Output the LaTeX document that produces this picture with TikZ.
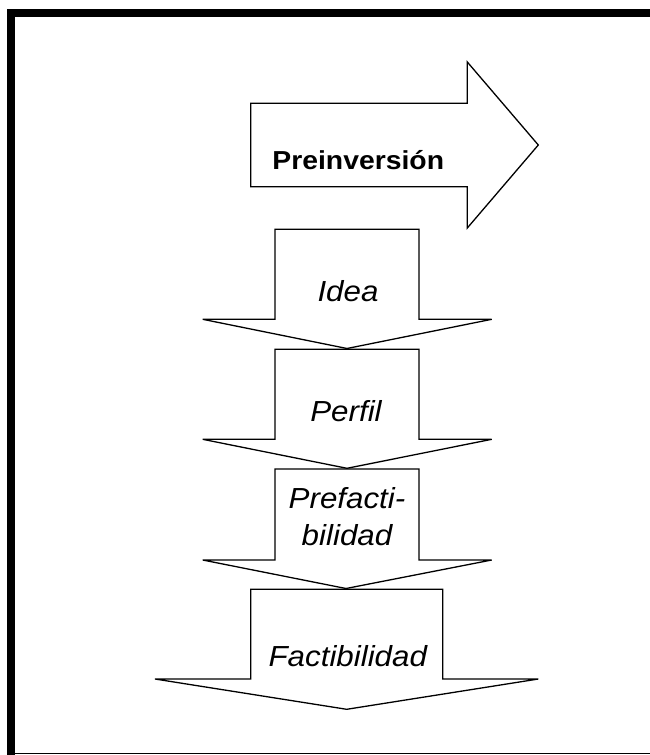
\documentclass[tikz,border=0pt]{standalone}
\usepackage{fontspec}
\setmainfont{Liberation Sans}
\begin{document}
\begin{tikzpicture}[x=1pt,y=-1pt,
  stage/.style={draw=black,fill=white,line width=1.3pt,line join=miter},
  stagelabel/.style={anchor=base,inner sep=0pt,font=\itshape\fontsize{29}{36.7}\selectfont},
  phaselabel/.style={anchor=base west,inner sep=0pt,font=\bfseries\fontsize{26}{30}\selectfont}]
\useasboundingbox (0,0) rectangle (650,755);
% page frame (thick top and left, thin bottom)
\fill[black] (6.7,9.3) rectangle (650,17.3);
\fill[black] (6.7,9.3) rectangle (14.7,755);
\fill[black] (14.7,752.6) rectangle (650,754.4);
% phase arrow
\draw[stage] (250.7,103.3) -- (467.3,103.3) -- (467.3,62) -- (538.3,145)
  -- (467.3,228) -- (467.3,186.7) -- (250.7,186.7) -- cycle;
\node[phaselabel] (pre) at (272.2,169.3) {\scalebox{1.09}[1]{Preinversión}};
% stage arrows
\draw[stage] (275,229.3) -- (419,229.3) -- (419,319.3) -- (491.7,319.3)
  -- (347,348.5) -- (202.7,319.3) -- (275,319.3) -- cycle;
\draw[stage] (275,349.3) -- (419,349.3) -- (419,439.3) -- (491.7,439.3)
  -- (347,468.3) -- (202.7,439.3) -- (275,439.3) -- cycle;
\draw[stage] (275,469) -- (419,469) -- (419,560) -- (491.7,560)
  -- (346,588.5) -- (202.7,560) -- (275,560) -- cycle;
\draw[stage] (250.7,589.3) -- (442.7,589.3) -- (442.7,679) -- (538.3,679)
  -- (346.7,709.3) -- (155,679) -- (250.7,679) -- cycle;
% stage labels (a two-line label is placed by its last baseline)
\node[stagelabel] (idea) at (348,301.7) {\scalebox{1.08}[1]{Idea}};
\node[stagelabel] (perfil) at (346,421.7) {\scalebox{1.08}[1]{Perfil}};
\node[stagelabel,align=center] (prefact) at (347,545) {\scalebox{1.08}[1]{Prefacti-}\\\scalebox{1.08}[1]{bilidad}};
\node[stagelabel] (fact) at (347.8,666.7) {\scalebox{1.08}[1]{Factibilidad}};
\end{tikzpicture}
\end{document}
